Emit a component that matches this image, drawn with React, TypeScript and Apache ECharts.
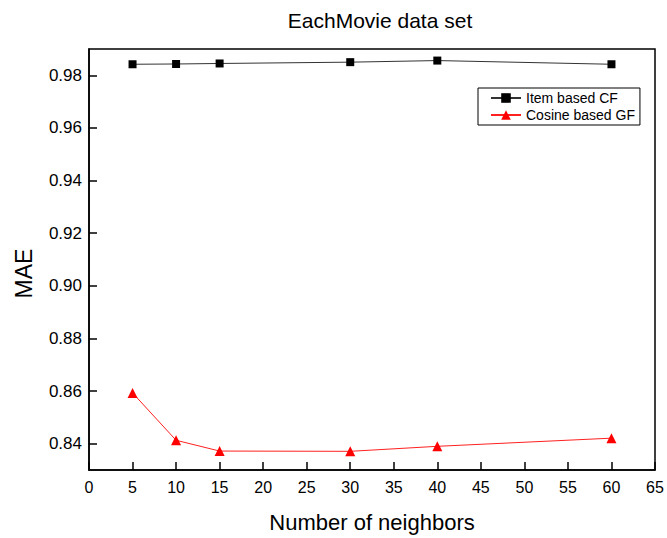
import React, { useEffect, useRef } from "react";
import * as echarts from "echarts";

const neighbors = [5, 10, 15, 30, 40, 60];
const itemBasedCF = [0.9842, 0.9843, 0.9845, 0.985, 0.9856, 0.9842];
const cosineBasedGF = [0.8593, 0.8413, 0.8372, 0.8371, 0.839, 0.8421];
const yTicks = [0.84, 0.86, 0.88, 0.9, 0.92, 0.94, 0.96, 0.98];
const seriesNames = ["Item based CF", "Cosine based GF"];

const FONT = "'Liberation Sans', Arial, sans-serif";

export default function App() {
  const ref = useRef<HTMLDivElement>(null);
  useEffect(() => {
    if (!ref.current) return;
    const chart = echarts.init(ref.current, null, { renderer: "svg" });
    chart.setOption({
      animation: false,
      backgroundColor: "#fff",
      textStyle: { fontFamily: FONT },
      title: {
        text: "EachMovie data set",
        left: 375,
        textAlign: "center",
        top: 5,
        textStyle: { fontSize: 21, fontWeight: "normal", color: "#000", fontFamily: FONT },
      },
      grid: {
        left: 89,
        right: 12,
        top: 49,
        bottom: 67,
        show: true,
        borderColor: "#000",
        borderWidth: 1.5,
        backgroundColor: "transparent",
      },
      legend: {
        orient: "vertical",
        left: 478,
        top: 88,
        data: seriesNames,
        borderColor: "#000",
        borderWidth: 1,
        borderRadius: 0,
        padding: [3, 5, 3, 12],
        itemGap: 3,
        itemWidth: 30,
        itemHeight: 12,
        textStyle: { fontSize: 14, color: "#000", fontFamily: FONT },
      },
      xAxis: {
        type: "value",
        min: 0,
        max: 65,
        interval: 5,
        name: "Number of neighbors",
        nameLocation: "middle",
        nameGap: 41,
        nameTextStyle: { fontSize: 22, color: "#000", fontFamily: FONT },
        axisLine: { show: true, lineStyle: { color: "#000", width: 1.5 } },
        axisTick: { show: true, inside: true, length: 8, lineStyle: { color: "#000", width: 1.5 } },
        axisLabel: { fontSize: 16, color: "#000", margin: 9, fontFamily: FONT },
        splitLine: { show: false },
      },
      yAxis: {
        type: "value",
        min: 0.83,
        max: 0.99,
        name: "MAE",
        nameLocation: "middle",
        nameGap: 54,
        nameTextStyle: {
          fontSize: 23,
          color: "#000",
          fontFamily: FONT,
          padding: [0, 28, 0, 0],
        },
        axisLine: { show: true, lineStyle: { color: "#000", width: 1.5 } },
        axisTick: {
          show: true,
          inside: true,
          length: 8,
          customValues: yTicks,
          lineStyle: { color: "#000", width: 1.5 },
        },
        axisLabel: {
          fontSize: 17,
          color: "#000",
          margin: 7,
          customValues: yTicks,
          formatter: (v: number) => v.toFixed(2),
          fontFamily: FONT,
        },
        splitLine: { show: false },
      },
      series: [
        {
          name: seriesNames[0],
          type: "line",
          data: neighbors.map((n, i) => [n, itemBasedCF[i]]),
          symbol: "rect",
          symbolSize: 8,
          color: "#000",
          lineStyle: { color: "#333", width: 1 },
          itemStyle: { color: "#000" },
        },
        {
          name: seriesNames[1],
          type: "line",
          data: neighbors.map((n, i) => [n, cosineBasedGF[i]]),
          symbol: "triangle",
          symbolSize: 10,
          color: "#ff0000",
          lineStyle: { color: "#ff2020", width: 1 },
          itemStyle: { color: "#ff0000" },
        },
      ],
    });
    return () => chart.dispose();
  }, []);
  return (
    <div
      ref={ref}
      style={{ position: "fixed", left: 0, top: 0, width: 667, height: 538 }}
    />
  );
}
